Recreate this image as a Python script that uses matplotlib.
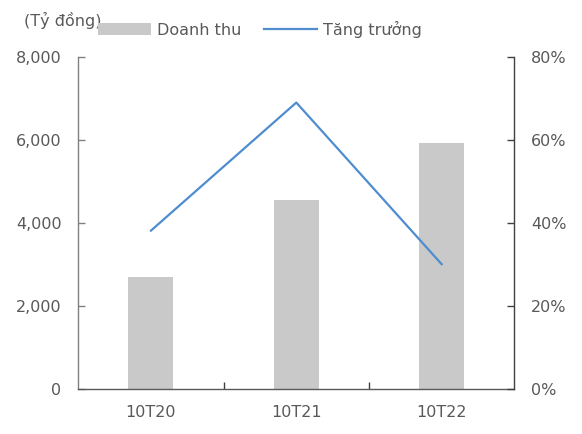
import matplotlib
matplotlib.use("Agg")
import matplotlib.pyplot as plt
from matplotlib.patches import Patch
from matplotlib.lines import Line2D
from matplotlib.ticker import FuncFormatter, FixedLocator

# Data
categories = ["10T20", "10T21", "10T22"]
revenue = [2700, 4550, 5930]          # Doanh thu (tỷ đồng)
growth = [38.1, 69.0, 30.0]           # Tăng trưởng (%)

left_ticks = [0, 2000, 4000, 6000, 8000]
right_ticks = [0, 20, 40, 60, 80]

TEXT = "#595959"
BAR = "#C9C9C9"
LINE = "#4F8CD0"
FS = 11.5

plt.rcParams["font.family"] = ["DejaVu Sans"]

fig = plt.figure(figsize=(5.82, 4.34), dpi=100)
ax = fig.add_axes([0.1345, 0.1048, 0.8837 - 0.1345, 0.8687 - 0.1048])

x = list(range(len(categories)))
ax.bar(x, revenue, width=0.31, color=BAR, zorder=2)
ax.set_xlim(-0.5, len(categories) - 0.5)
ax.set_ylim(0, 8000)
ax.yaxis.set_major_locator(FixedLocator(left_ticks))
ax.yaxis.set_major_formatter(FuncFormatter(lambda v, p: f"{int(v):,}"))

ax.set_xticks(x)
ax.set_xticklabels(categories)
ax.xaxis.set_minor_locator(FixedLocator([0.5, 1.5]))
ax.tick_params(axis="x", which="major", length=0, pad=12, labelsize=FS, labelcolor=TEXT)
ax.tick_params(axis="x", which="minor", direction="in", length=5, color="#404040", width=1)
ax.tick_params(axis="y", direction="in", length=5, color="#808080", width=1,
               pad=12, labelsize=FS, labelcolor=TEXT)

ax2 = ax.twinx()
ax2.plot(x, growth, color=LINE, linewidth=1.6, zorder=3)
ax2.set_ylim(0, 80)
ax2.yaxis.set_major_locator(FixedLocator(right_ticks))
ax2.yaxis.set_major_formatter(FuncFormatter(lambda v, p: f"{int(v)}%"))
ax2.tick_params(axis="y", direction="in", length=5, color="#404040", width=1,
                pad=12, labelsize=FS, labelcolor=TEXT)

for a in (ax, ax2):
    a.spines["top"].set_visible(False)
ax.spines["left"].set_color("#808080")
ax.spines["bottom"].set_color("#595959")
ax2.spines["left"].set_visible(False)
ax2.spines["bottom"].set_visible(False)
ax2.spines["right"].set_color("#404040")
for s in ("left", "bottom"):
    ax.spines[s].set_linewidth(1.0)
ax2.spines["right"].set_linewidth(1.0)
ax.spines["right"].set_visible(False)

fig.text(24 / 582, 1 - 20 / 434, "(Tỷ đồng)", fontsize=FS, color=TEXT,
         ha="left", va="center")

handles = [Patch(facecolor=BAR, edgecolor="none"),
           Line2D([0], [0], color=LINE, linewidth=1.6)]
fig.legend(handles, ["Doanh thu", "Tăng trưởng"], ncol=2, frameon=False,
           loc="center left", bbox_to_anchor=(98 / 582, 1 - 29 / 434),
           borderaxespad=0, borderpad=0, fontsize=FS, labelcolor=TEXT,
           handlelength=3.3, handleheight=0.8, handletextpad=0.4,
           columnspacing=1.4)

fig.savefig("out.png", dpi=100)
